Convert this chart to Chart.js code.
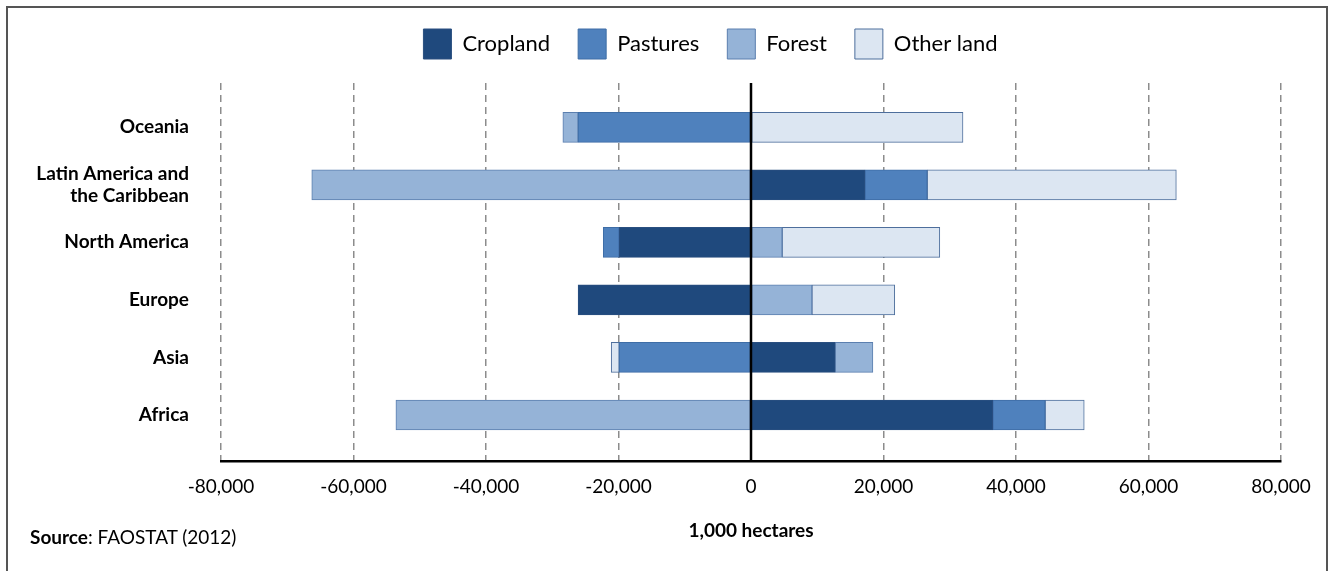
<!DOCTYPE html>
<html>
<head>
<meta charset="utf-8">
<script src="https://cdn.jsdelivr.net/npm/chart.js@4/dist/chart.umd.min.js"></script>
<style>
  body { margin: 0; background: #fff; }
  #wrap { position: relative; width: 1337px; height: 571px; }
  #frame { position: absolute; left: 6px; top: 6px; width: 1322px; height: 580px; border: 2px solid #555; box-sizing: border-box; }
  #source { position: absolute; left: 30px; top: 525px; font: 19px Lato, sans-serif; color: #000; }
</style>
</head>
<body>
<div id="wrap">
  <canvas id="landChart" width="1337" height="571"></canvas>
  <div id="frame"></div>
  <div id="source"><b>Source</b>: FAOSTAT (2012)</div>
</div>
<script>
// regions, top to bottom
var regions = ['Oceania', ['Latin America and', 'the Caribbean'], 'North America', 'Europe', 'Asia', 'Africa'];

// change in land use, 1,000 hectares
var cropland  = [0, 17200, -19900, -26100, 12700, 36500];
var pastures  = [-26100, 9400, -2400, 0, -19900, 7900];
var forest    = [-2300, -66300, 4700, 9200, 5700, -53600];
var otherLand = [32000, 37600, 23800, 12500, -1200, 5900];

var xTicks = [-80000, -60000, -40000, -20000, 0, 20000, 40000, 60000, 80000];

function toPoints(arr) {
    return arr.map(function (v, i) { return { x: v === 0 ? null : v, y: i }; });
}

var zeroLine = {
    id: 'zeroLine',
    afterDatasetsDraw: function (chart) {
        var ctx = chart.ctx, x = chart.scales.x.getPixelForValue(0);
        ctx.save();
        ctx.strokeStyle = '#000';
        ctx.lineWidth = 2.5;
        ctx.beginPath();
        ctx.moveTo(x, chart.chartArea.top);
        ctx.lineTo(x, chart.chartArea.bottom);
        ctx.stroke();
        ctx.restore();
    }
};

// a bit more room under the legend, and centre it over the plot
var legendSpace = {
    id: 'legendSpace',
    afterInit: function (chart) {
        var fit = chart.legend.fit;
        chart.legend.fit = function () {
            fit.call(this);
            this.height += 14;
        };
    },
    afterLayout: function (chart) {
        chart.legend.left += 140;
    }
};

var ctx = document.getElementById('landChart').getContext('2d');

var mychart = new Chart(ctx, {
    type: 'bar',
    data: {
        datasets: [
            { label: 'Cropland', data: toPoints(cropland), backgroundColor: '#1F497D', borderColor: '#2A4F80' },
            { label: 'Pastures', data: toPoints(pastures), backgroundColor: '#4F81BD', borderColor: '#3E6DA6' },
            { label: 'Forest', data: toPoints(forest), backgroundColor: '#95B3D7', borderColor: '#5B7FAF' },
            { label: 'Other land', data: toPoints(otherLand), backgroundColor: '#DCE6F2', borderColor: '#4D6E9C' }
        ]
    },
    options: {
        responsive: false,
        animation: false,
        indexAxis: 'y',
        datasets: { bar: { barThickness: 30, borderWidth: 1, borderSkipped: false } },
        layout: { padding: { top: 1, right: 56, left: 0, bottom: 0 } },
        plugins: {
            tooltip: { enabled: false },
            legend: {
                position: 'top',
                labels: {
                    boxWidth: 28,
                    boxHeight: 30,
                    padding: 28,
                    color: '#000',
                    font: { family: 'Lato', size: 22 }
                }
            }
        },
        scales: {
            x: {
                type: 'linear',
                stacked: true,
                min: -80000,
                max: 80000,
                afterBuildTicks: function (scale) {
                    scale.ticks = xTicks.map(function (v) { return { value: v }; });
                },
                afterFit: function (scale) { scale.height = 110; },
                ticks: {
                    padding: 14,
                    color: '#000',
                    font: { family: 'Lato', size: 19 },
                    maxRotation: 0,
                    callback: function (value) { return value.toLocaleString('en-US'); }
                },
                grid: {
                    color: '#8c8c8c',
                    lineWidth: 1.5,
                    drawTicks: false
                },
                border: { display: true, color: '#000', width: 2.5, dash: [7, 5] },
                title: {
                    display: true,
                    text: '1,000 hectares',
                    color: '#000',
                    font: { family: 'Lato', size: 19, weight: 'bold' },
                    padding: { top: 0, bottom: 29 }
                }
            },
            y: {
                type: 'linear',
                stacked: true,
                reverse: true,
                offset: false,
                min: -0.77,
                max: 5.8,
                afterBuildTicks: function (scale) {
                    scale.ticks = regions.map(function (r, i) { return { value: i }; });
                },
                afterFit: function (scale) { scale.width = 221; },
                ticks: {
                    padding: 24,
                    color: '#000',
                    font: { family: 'Lato', size: 19, weight: 'bold' },
                    callback: function (value) { return regions[value]; }
                },
                grid: { display: false },
                border: { display: false }
            }
        }
    },
    plugins: [zeroLine, legendSpace]
});
</script>
</body>
</html>
